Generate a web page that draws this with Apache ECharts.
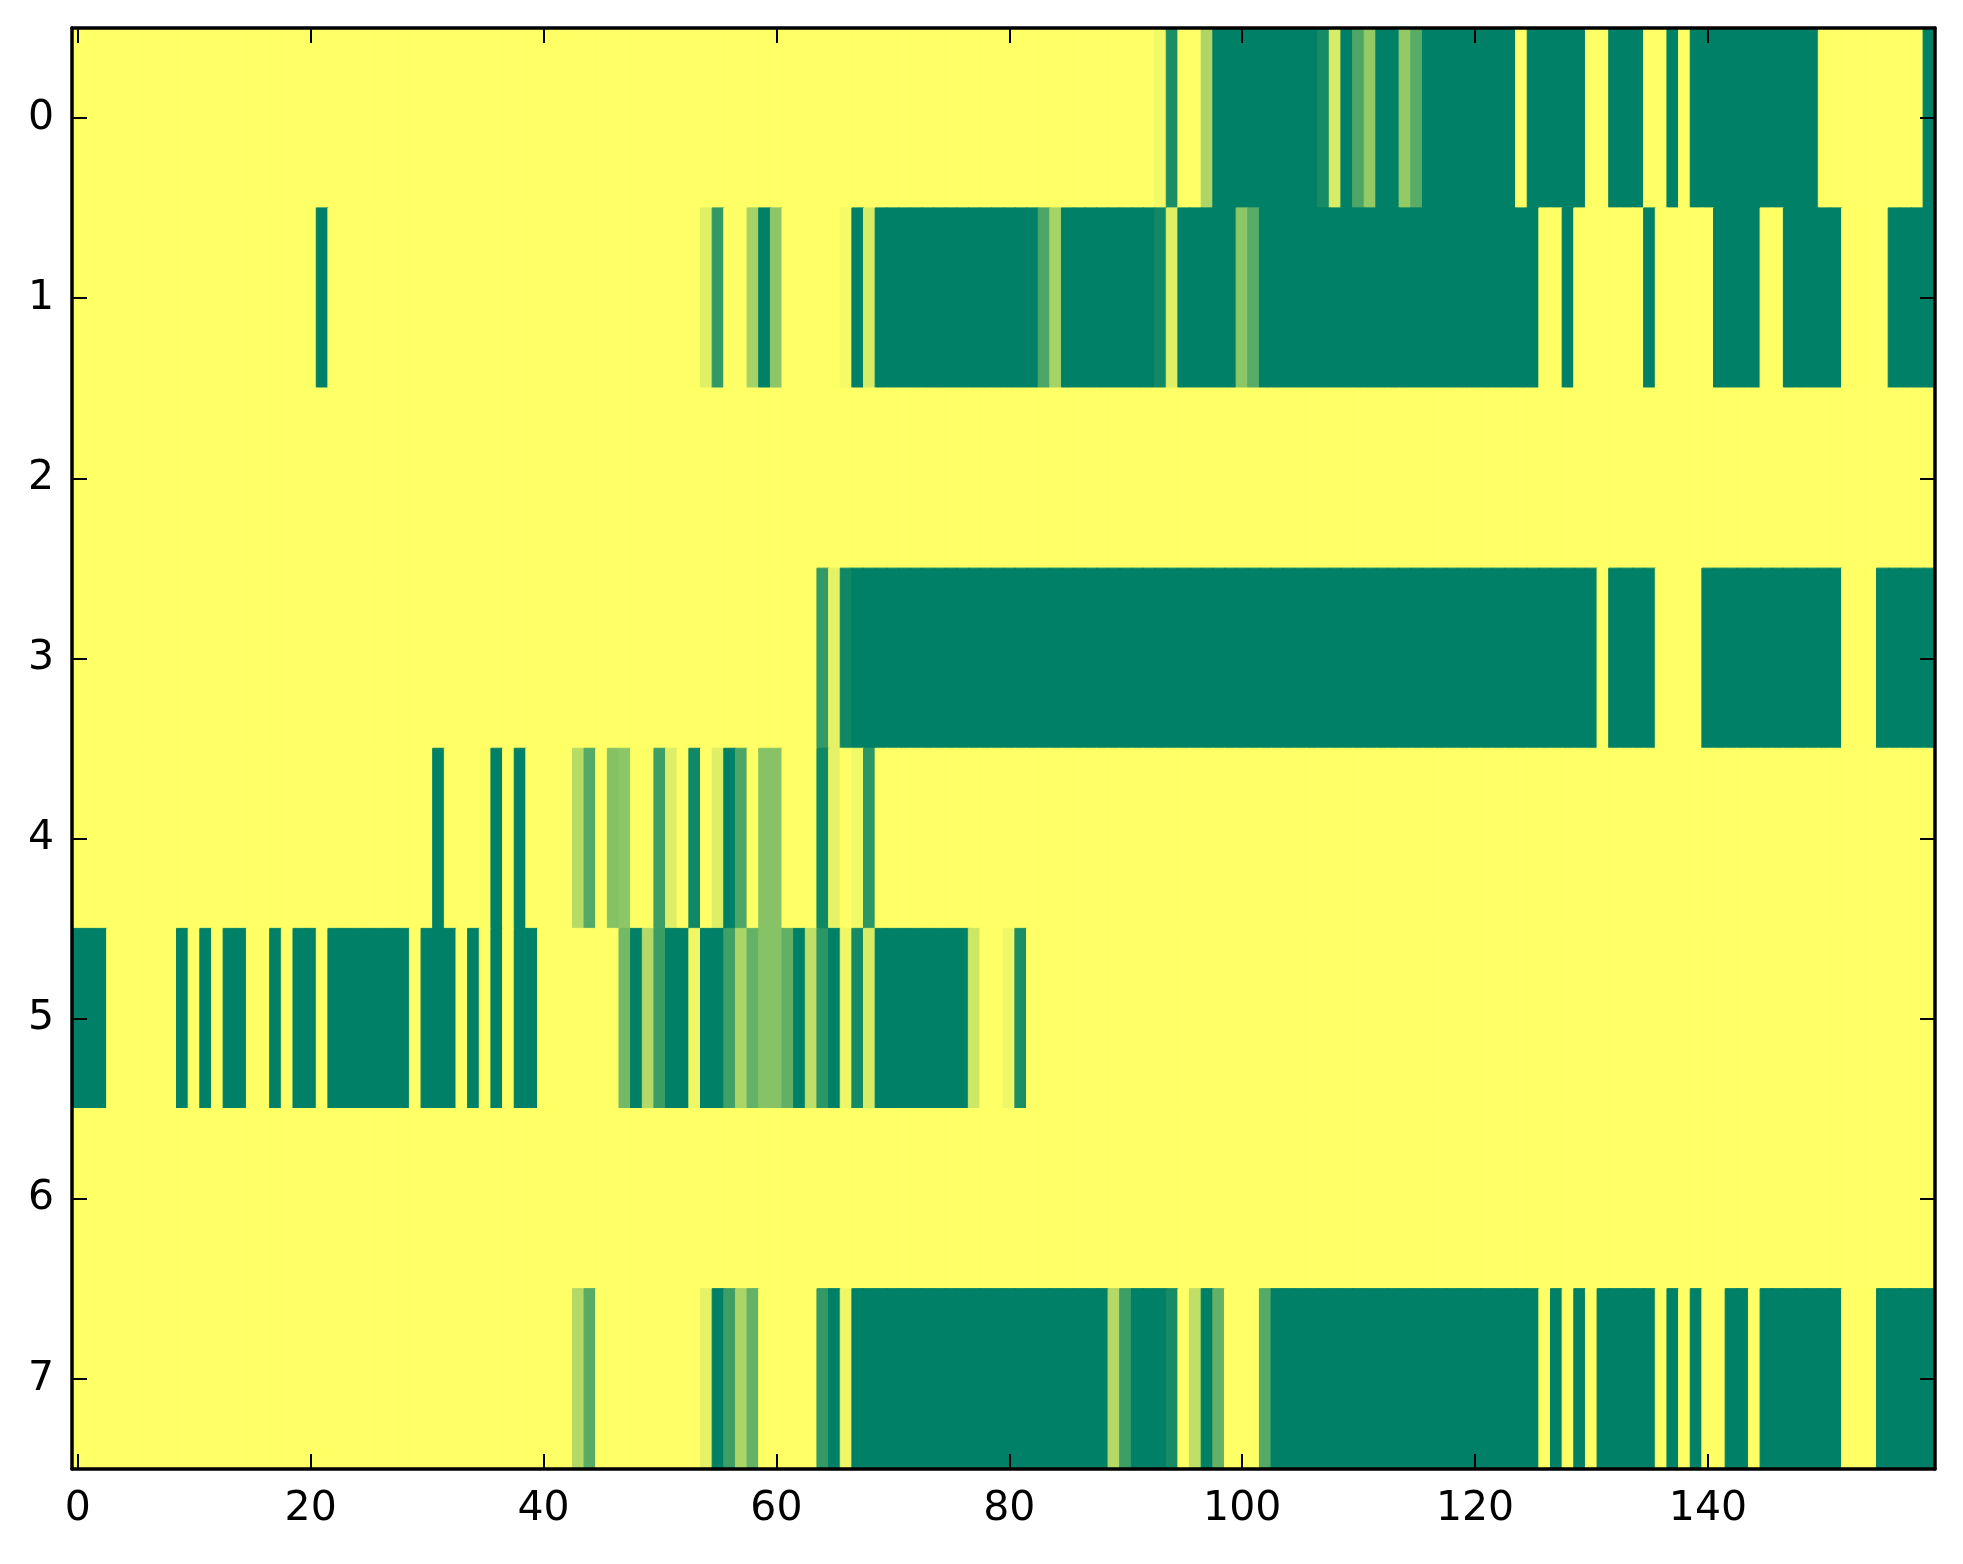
<!DOCTYPE html>
<html>
<head>
<meta charset="utf-8">
<script src="https://cdn.jsdelivr.net/npm/echarts@6/dist/echarts.min.js"></script>
<style>html,body{margin:0;padding:0;background:#fff;}#c{width:1963px;height:1564px;}</style>
</head>
<body>
<div id="c"></div>
<script>
// Each row: runs of [value, count] read left to right (160 columns per row)
var row0 = [[1,93],[0.95,1],[0.11,1],[1,2],[0.68,1],[0,9],[0.09,1],[0.85,1],[0,1],[0.3,1],[0.58,1],[0,2],[0.58,1],[0.35,1],[0,8],[1,1],[0,5],[1,2],[0,3],[1,2],[0,1],[1,1],[0,11],[1,9],[0,1]];
var row1 = [[1,21],[0,1],[1,32],[0.88,1],[0.2,1],[1,2],[0.65,1],[0,1],[0.55,1],[1,5],[0.96,1],[0,1],[0.85,1],[0,14],[0.3,1],[0.65,1],[0,8],[0.07,1],[0.88,1],[0,5],[0.55,1],[0.35,1],[0,24],[1,2],[0,1],[1,6],[0,1],[1,5],[0,4],[1,2],[0,5],[1,4],[0,4]];
var row2 = [[1,160]];
var row3 = [[1,64],[0.2,1],[0.9,1],[0.06,1],[0,64],[1,1],[0,4],[1,4],[0,12],[1,3],[0,5]];
var row4 = [[1,31],[0,1],[1,4],[0,1],[1,1],[0,1],[1,4],[0.72,1],[0.33,1],[1,1],[0.52,1],[0.55,1],[1,2],[0.24,1],[0.87,1],[1,1],[0.06,1],[1,1],[0.87,1],[0,1],[0.3,1],[1,1],[0.53,2],[1,3],[0.06,1],[0.9,1],[1,1],[0.95,1],[0.17,1],[1,91]];
var row5 = [[0,3],[1,6],[0,1],[1,1],[0,1],[1,1],[0,2],[1,2],[0,1],[1,1],[0,2],[1,1],[0,7],[1,1],[0,3],[1,1],[0,1],[1,1],[0,1],[1,1],[0,2],[1,7],[0.45,1],[0,1],[0.7,1],[0.23,1],[0,2],[0.94,1],[0,2],[0.25,1],[0.67,1],[0.39,1],[0.53,2],[0.38,1],[0,1],[0.75,1],[0.17,1],[0,1],[0.94,1],[0.08,1],[0.85,1],[0,8],[0.8,1],[1,2],[0.94,1],[0.11,1],[1,78]];
var row6 = [[1,160]];
var row7 = [[1,43],[0.7,1],[0.35,1],[1,9],[0.9,1],[0,1],[0.24,1],[0.67,1],[0.39,1],[1,5],[0.2,1],[0,1],[0.94,1],[0,22],[0.7,1],[0.24,1],[0,3],[0.09,1],[1,1],[0.75,1],[0,1],[0.39,1],[1,3],[0.33,1],[0,23],[1,1],[0,1],[1,1],[0,1],[1,1],[0,5],[1,1],[0,1],[1,1],[0,1],[1,2],[0,2],[1,1],[0,7],[1,3],[0,5]];
var rows = [row0, row1, row2, row3, row4, row5, row6, row7];
var nCols = 160;
var xTickLabels = ['0','20','40','60','80','100','120','140'];
var yTickLabels = ['0','1','2','3','4','5','6','7'];

// summer colormap end points (low -> high)
var LOW = [0, 128, 102], HIGH = [255, 255, 102];
function cmap(v) {
  var c = LOW.map(function (a, i) { return Math.round(a + (HIGH[i] - a) * v); });
  return 'rgb(' + c.join(',') + ')';
}

var xCats = [];
for (var i = 0; i < nCols; i++) xCats.push(String(i));
var cells = [];
rows.forEach(function (runs, r) {
  var c = 0;
  runs.forEach(function (run) {
    for (var k = 0; k < run[1]; k++) {
      cells.push({ value: [c, r, run[0]], itemStyle: { borderColor: cmap(run[0]), borderWidth: 1 } });
      c++;
    }
  });
});

var FONT = 'DejaVu Sans';
function showTick(idx, val) { return xTickLabels.indexOf(String(val)) >= 0; }
function xAxisDef(pos, labels) {
  return {
    type: 'category', data: xCats, position: pos, z: 10,
    boundaryGap: true,
    axisLine: { show: true, onZero: false, lineStyle: { color: '#000', width: 3.5 } },
    axisTick: { show: true, inside: true, alignWithLabel: true, interval: showTick, length: 15, lineStyle: { color: '#000', width: 2 } },
    axisLabel: { show: labels, interval: showTick, color: '#000', fontSize: 41, fontFamily: FONT, margin: 20 },
    splitLine: { show: false }, splitArea: { show: false }
  };
}
function yAxisDef(pos, labels) {
  return {
    type: 'category', data: yTickLabels, position: pos, inverse: true, z: 10,
    boundaryGap: true,
    axisLine: { show: true, onZero: false, lineStyle: { color: '#000', width: 3.5 } },
    axisTick: { show: true, inside: true, alignWithLabel: true, length: 15, lineStyle: { color: '#000', width: 2 } },
    axisLabel: { show: labels, color: '#000', fontSize: 41, fontFamily: FONT, margin: 18 },
    splitLine: { show: false }, splitArea: { show: false }
  };
}

var chart = echarts.init(document.getElementById('c'), null, { renderer: 'canvas' });
chart.setOption({
  animation: false,
  backgroundColor: '#ffffff',
  grid: { left: 72, right: 28, top: 28, bottom: 95, containLabel: false },
  xAxis: [xAxisDef('bottom', true), xAxisDef('top', false)],
  yAxis: [yAxisDef('left', true), yAxisDef('right', false)],
  visualMap: {
    show: false, type: 'continuous', min: 0, max: 1, dimension: 2,
    inRange: { color: ['#008066', '#ffff66'] }
  },
  series: [{
    type: 'heatmap', xAxisIndex: 0, yAxisIndex: 0, z: 2,
    data: cells,
    emphasis: { disabled: true },
    progressive: 0
  }]
});
</script>
</body>
</html>
